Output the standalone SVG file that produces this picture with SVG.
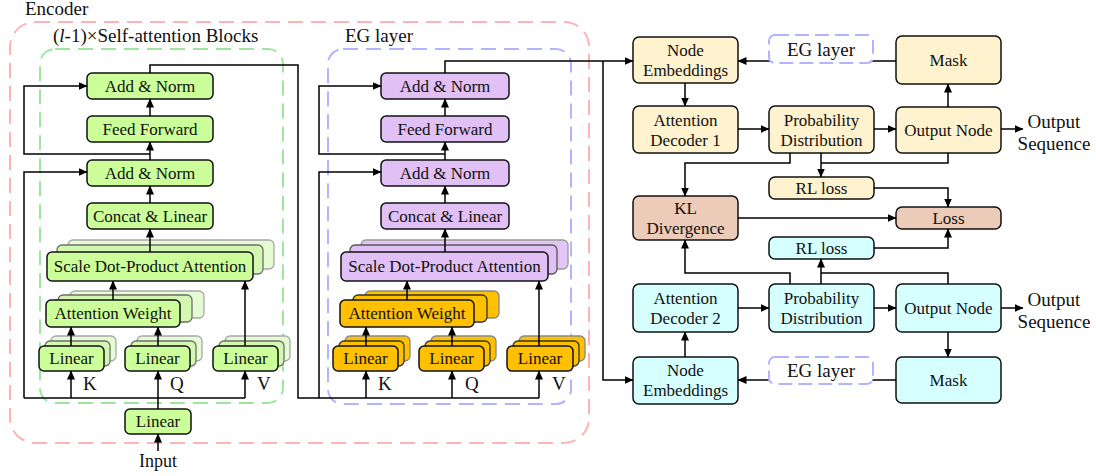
<svg xmlns="http://www.w3.org/2000/svg" width="1096" height="476" viewBox="0 0 1096 476">
<defs>
<marker id="ah" markerUnits="userSpaceOnUse" markerWidth="9" markerHeight="8" refX="8.5" refY="4" orient="auto">
<path d="M0,0 L9,4 L0,8 z" fill="#000"/>
</marker>
<style>
text{font-family:"Liberation Serif","Times New Roman",serif;font-size:17px;fill:#111;}
.L{font-size:19px;}
.c{text-anchor:middle;}
.b{stroke:#111;stroke-width:1.5;}
.g{fill:#ccff99;}
.g2{fill:#d4f7b2;stroke:#6e6e6e;stroke-width:1.3;}
.g3{fill:#e6fbd3;stroke:#a8a8a8;stroke-width:1.3;}
.p{fill:#e1c0f5;}
.p2{fill:#e1c0f5;stroke:#555;stroke-width:1.3;}
.p3{fill:#e3c6f5;stroke:#999;stroke-width:1.3;}
.o{fill:#ffc000;}
.o2{fill:#ffc000;stroke:#333;stroke-width:1.3;}
.o3{fill:#ffc000;stroke:#888;stroke-width:1.3;}
.y{fill:#fff2cf;}
.cy{fill:#d6ffff;}
.pe{fill:#eccbb8;}
.ln{fill:none;stroke:#000;stroke-width:1.5;}
.ar{marker-end:url(#ah);}
.dash{fill:none;stroke-width:2;stroke-dasharray:15 8;}
.egl{fill:#fff;stroke:#b3b3ff;stroke-width:2;stroke-dasharray:14 6;}
</style>
</defs>

<g id="containers">
<rect x="10" y="22" width="579" height="421" rx="25" class="dash" stroke="#ffb3b3"/>
<rect x="40" y="49" width="243" height="354" rx="15" class="dash" stroke="#9ee69e"/>
<rect x="328" y="49" width="243" height="355" rx="15" class="dash" stroke="#b3b3ff"/>
<text x="25" y="15" class="L">Encoder</text>
<text x="53" y="42" class="L">(<tspan font-style="italic">l</tspan>-1)×Self-attention Blocks</text>
<text x="345" y="42" class="L">EG layer</text>
</g>

<!-- Left self-attention block -->
<g id="sa-addnorm1"><rect x="87" y="73" width="126" height="26" rx="5" class="g b"/><text x="150" y="92" class="c">Add &amp; Norm</text></g>
<g id="sa-ff"><rect x="87" y="116" width="126" height="26" rx="5" class="g b"/><text x="150" y="135" class="c">Feed Forward</text></g>
<g id="sa-addnorm2"><rect x="87" y="160" width="126" height="26" rx="5" class="g b"/><text x="150" y="179" class="c">Add &amp; Norm</text></g>
<g id="sa-concat"><rect x="87" y="203" width="126" height="26" rx="5" class="g b"/><text x="150" y="222" class="c">Concat &amp; Linear</text></g>
<g id="sa-sdp">
<rect x="68" y="240" width="206" height="29" rx="5" class="g3"/>
<rect x="57" y="245" width="206" height="29" rx="5" class="g2"/>
<rect x="47" y="252" width="206" height="29" rx="5" class="g b"/><text x="150" y="272" class="c">Scale Dot-Product Attention</text></g>
<g id="sa-aw">
<rect x="70" y="291" width="134" height="27" rx="5" class="g3"/>
<rect x="58" y="295" width="134" height="27" rx="5" class="g2"/>
<rect x="46" y="300" width="134" height="27" rx="5" class="g b"/><text x="113" y="319" class="c">Attention Weight</text></g>
<g id="sa-lin-k">
<rect x="51" y="336" width="65" height="25" rx="5" class="g3"/>
<rect x="45" y="341" width="65" height="25" rx="5" class="g2"/>
<rect x="39" y="346" width="65" height="25" rx="5" class="g b"/><text x="71.5" y="364" class="c">Linear</text></g>
<g id="sa-lin-q">
<rect x="137" y="336" width="65" height="25" rx="5" class="g3"/>
<rect x="131" y="341" width="65" height="25" rx="5" class="g2"/>
<rect x="125" y="346" width="65" height="25" rx="5" class="g b"/><text x="157.5" y="364" class="c">Linear</text></g>
<g id="sa-lin-v">
<rect x="225" y="336" width="65" height="25" rx="5" class="g3"/>
<rect x="219" y="341" width="65" height="25" rx="5" class="g2"/>
<rect x="213" y="346" width="65" height="25" rx="5" class="g b"/><text x="245.5" y="364" class="c">Linear</text></g>
<g id="in-linear"><rect x="125" y="409" width="66" height="25" rx="5" class="g b"/><text x="158" y="427" class="c">Linear</text></g>
<g id="input-label"><text x="158" y="467" class="c" style="font-size:18px">Input</text></g>
<g id="kqv-labels1"><text x="83" y="390" class="L">K</text><text x="170" y="390" class="L">Q</text><text x="257" y="390" class="L">V</text></g>

<!-- EG layer -->
<g id="eg-addnorm1"><rect x="381" y="73" width="128" height="26" rx="5" class="p b"/><text x="445" y="92" class="c">Add &amp; Norm</text></g>
<g id="eg-ff"><rect x="381" y="116" width="128" height="26" rx="5" class="p b"/><text x="445" y="135" class="c">Feed Forward</text></g>
<g id="eg-addnorm2"><rect x="381" y="160" width="128" height="26" rx="5" class="p b"/><text x="445" y="179" class="c">Add &amp; Norm</text></g>
<g id="eg-concat"><rect x="381" y="203" width="128" height="26" rx="5" class="p b"/><text x="445" y="222" class="c">Concat &amp; Linear</text></g>
<g id="eg-sdp">
<rect x="361" y="240" width="207" height="29" rx="5" class="p3"/>
<rect x="350" y="245" width="207" height="29" rx="5" class="p2"/>
<rect x="341" y="252" width="207" height="29" rx="5" class="p b"/><text x="444.5" y="272" class="c">Scale Dot-Product Attention</text></g>
<g id="eg-aw">
<rect x="365" y="291" width="134" height="27" rx="5" class="o3"/>
<rect x="353" y="295" width="134" height="27" rx="5" class="o2"/>
<rect x="340" y="300" width="134" height="27" rx="5" class="o b"/><text x="407" y="319" class="c">Attention Weight</text></g>
<g id="eg-lin-k">
<rect x="345" y="336" width="65" height="25" rx="5" class="o3"/>
<rect x="339" y="341" width="65" height="25" rx="5" class="o2"/>
<rect x="333" y="346" width="65" height="25" rx="5" class="o b"/><text x="365.5" y="364" class="c">Linear</text></g>
<g id="eg-lin-q">
<rect x="431" y="336" width="65" height="25" rx="5" class="o3"/>
<rect x="425" y="341" width="65" height="25" rx="5" class="o2"/>
<rect x="419" y="346" width="65" height="25" rx="5" class="o b"/><text x="451.5" y="364" class="c">Linear</text></g>
<g id="eg-lin-v">
<rect x="519" y="336" width="66" height="25" rx="5" class="o3"/>
<rect x="513" y="341" width="66" height="25" rx="5" class="o2"/>
<rect x="507" y="346" width="66" height="25" rx="5" class="o b"/><text x="540" y="364" class="c">Linear</text></g>
<g id="kqv-labels2"><text x="378" y="390" class="L">K</text><text x="465" y="390" class="L">Q</text><text x="552" y="390" class="L">V</text></g>

<!-- Right decoder part -->
<g id="ne1"><rect x="633" y="37" width="105" height="46" rx="6" class="y b"/><text x="685.5" y="56" class="c">Node</text><text x="685.5" y="76" class="c">Embeddings</text></g>
<g id="ad1"><rect x="633" y="106" width="105" height="47" rx="6" class="y b"/><text x="685.5" y="126" class="c">Attention</text><text x="685.5" y="146" class="c">Decoder 1</text></g>
<g id="pd1"><rect x="769" y="106" width="105" height="47" rx="6" class="y b"/><text x="821.5" y="126" class="c">Probability</text><text x="821.5" y="146" class="c">Distribution</text></g>
<g id="rl1"><rect x="769" y="177" width="105" height="22" rx="6" class="y b"/><text x="821.5" y="194" class="c">RL loss</text></g>
<g id="kl"><rect x="633" y="196" width="105" height="44" rx="6" class="pe b"/><text x="685.5" y="214" class="c">KL</text><text x="685.5" y="234" class="c">Divergence</text></g>
<g id="rl2"><rect x="769" y="237" width="105" height="22" rx="6" class="cy b"/><text x="821.5" y="254" class="c">RL loss</text></g>
<g id="ad2"><rect x="633" y="284" width="105" height="48" rx="6" class="cy b"/><text x="685.5" y="304" class="c">Attention</text><text x="685.5" y="324" class="c">Decoder 2</text></g>
<g id="pd2"><rect x="769" y="284" width="105" height="48" rx="6" class="cy b"/><text x="821.5" y="304" class="c">Probability</text><text x="821.5" y="324" class="c">Distribution</text></g>
<g id="ne2"><rect x="633" y="357" width="105" height="47" rx="6" class="cy b"/><text x="685.5" y="376" class="c">Node</text><text x="685.5" y="396" class="c">Embeddings</text></g>
<g id="mask1"><rect x="896" y="36" width="105" height="48" rx="6" class="y b"/><text x="948.5" y="66" class="c">Mask</text></g>
<g id="on1"><rect x="896" y="107" width="105" height="46" rx="6" class="y b"/><text x="948.5" y="136" class="c">Output Node</text></g>
<g id="loss"><rect x="896" y="207" width="105" height="22" rx="6" class="pe b"/><text x="948.5" y="224" class="c">Loss</text></g>
<g id="on2"><rect x="896" y="284" width="105" height="48" rx="6" class="cy b"/><text x="948.5" y="314" class="c">Output Node</text></g>
<g id="mask2"><rect x="896" y="357" width="105" height="46" rx="6" class="cy b"/><text x="948.5" y="386" class="c">Mask</text></g>
<g id="out-seq1"><text x="1054" y="128" class="c L">Output</text><text x="1054" y="150" class="c L">Sequence</text></g>
<g id="out-seq2"><text x="1054" y="306" class="c L">Output</text><text x="1054" y="328" class="c L">Sequence</text></g>

<g id="connectors">
<!-- left block -->
<path class="ln ar" d="M158,451 V434"/>
<path class="ln ar" d="M158,409 V371"/>
<path class="ln" d="M24,398 H245"/>
<path class="ln ar" d="M71,398 V371"/>
<path class="ln ar" d="M245,398 V371"/>
<path class="ln ar" d="M71,346 V327"/>
<path class="ln ar" d="M158,346 V327"/>
<path class="ln ar" d="M113,300 V281"/>
<path class="ln ar" d="M245,346 V281"/>
<path class="ln ar" d="M150,252 V229"/>
<path class="ln ar" d="M150,203 V186"/>
<path class="ln ar" d="M150,160 V142"/>
<path class="ln ar" d="M150,116 V99"/>
<path class="ln ar" d="M24,398 V172 H87"/>
<path class="ln ar" d="M150,154 H24 V86 H87"/>
<path class="ln" d="M150,73 V65 H298 V398 H539"/>
<!-- EG block -->
<path class="ln ar" d="M366,398 V371"/>
<path class="ln ar" d="M452,398 V371"/>
<path class="ln ar" d="M539,398 V371"/>
<path class="ln ar" d="M366,346 V327"/>
<path class="ln ar" d="M452,346 V327"/>
<path class="ln ar" d="M407,300 V281"/>
<path class="ln ar" d="M539,346 V281"/>
<path class="ln ar" d="M445,252 V229"/>
<path class="ln ar" d="M445,203 V186"/>
<path class="ln ar" d="M445,160 V142"/>
<path class="ln ar" d="M445,116 V99"/>
<path class="ln ar" d="M319,398 V172 H381"/>
<path class="ln ar" d="M445,154 H319 V86 H381"/>
<path class="ln ar" d="M445,73 V61 H633"/>
<path class="ln ar" d="M603,61 V380 H633"/>
<!-- decoder -->
<path class="ln ar" d="M896,61 H738"/>
<path class="ln ar" d="M685,83 V106"/>
<path class="ln ar" d="M738,129 H769"/>
<path class="ln ar" d="M874,129 H896"/>
<path class="ln ar" d="M1001,129 H1023"/>
<path class="ln ar" d="M948,107 V84"/>
<path class="ln ar" d="M790,153 V163 H685 V196"/>
<path class="ln ar" d="M821,153 V177"/>
<path class="ln" d="M948,153 V163 H821"/>
<path class="ln ar" d="M874,188 H948 V207"/>
<path class="ln ar" d="M738,218 H896"/>
<path class="ln ar" d="M874,248 H948 V229"/>
<path class="ln ar" d="M790,284 V273 H685 V240"/>
<path class="ln ar" d="M821,284 V259"/>
<path class="ln" d="M948,284 V273 H821"/>
<path class="ln ar" d="M685,357 V332"/>
<path class="ln ar" d="M738,308 H769"/>
<path class="ln ar" d="M874,308 H896"/>
<path class="ln ar" d="M1001,308 H1023"/>
<path class="ln ar" d="M948,332 V357"/>
<path class="ln ar" d="M896,380 H738"/>
</g>

<g id="eg-label1"><rect x="769" y="35" width="104" height="28" rx="6" class="egl"/><text x="821" y="56" class="c L">EG layer</text></g>
<g id="eg-label2"><rect x="769" y="357" width="104" height="27" rx="6" class="egl"/><text x="821" y="377" class="c L">EG layer</text></g>
</svg>
